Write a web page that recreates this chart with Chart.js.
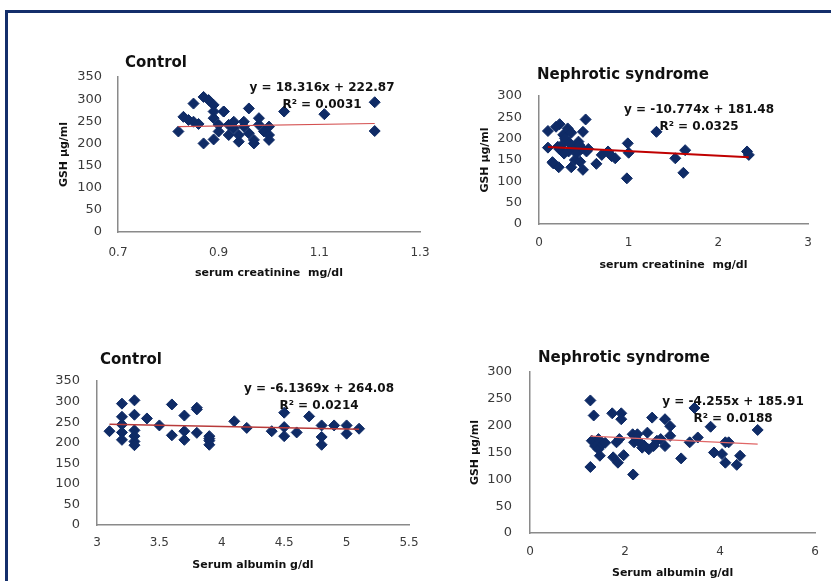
<!DOCTYPE html>
<html lang="en">
<head>
  <meta charset="UTF-8" />
  <title>GSH correlations</title>
  <script src="https://cdn.jsdelivr.net/npm/chart.js"></script>
  <style>
    body { margin: 0; background: #fff; overflow: hidden; }
    #page { position: relative; width: 831px; height: 581px; overflow: hidden; }
    #frame { position: absolute; left: 5px; top: 10px; width: 900px; height: 700px; border: 3px solid #142f6b; }
    canvas { position: absolute; }
  </style>
</head>
<body>
<div id="page">
  <div id="frame"></div>
  <canvas id="c1" width="410" height="250" style="left:40px;top:40px"></canvas>
  <canvas id="c2" width="370" height="225" style="left:455px;top:55px"></canvas>
  <canvas id="c3" width="410" height="241" style="left:40px;top:340px"></canvas>
  <canvas id="c4" width="376" height="246" style="left:455px;top:335px"></canvas>
</div>

<script>
  // Control: serum creatinine (mg/dl) vs GSH (µg/ml)
  const ctrlCreat = [0.82,0.83,0.85,0.84,0.85,0.86,0.87,0.87,0.88,0.89,0.89,0.89,0.89,0.90,0.90,0.91,0.91,0.92,0.92,0.93,
                     0.93,0.94,0.94,0.95,0.95,0.96,0.96,0.97,0.97,0.98,0.98,0.99,1.00,1.00,1.00,1.03,1.11,1.21,1.21];
  const ctrlGshA  = [227,260,290,253,249,244,200,305,298,287,272,257,209,242,227,272,272,242,219,234,
                     249,204,219,238,249,279,223,200,208,242,257,227,219,238,208,272,266,293,228];

  // Nephrotic: serum creatinine vs GSH
  const nephCreat = [0.10,0.10,0.16,0.22,0.23,0.27,0.32,0.36,0.30,0.23,0.33,0.28,0.44,0.49,0.52,0.40,0.36,0.46,0.49,0.53,
                     0.48,0.21,0.29,0.26,0.38,0.64,0.70,0.77,0.81,0.85,0.99,1.00,0.98,1.31,1.52,1.63,1.61,2.32,2.34,
                     0.42,0.45,0.55,0.15,0.34,0.19];
  const nephGshA  = [218,179,142,133,234,209,224,214,197,175,170,165,193,216,245,150,133,146,127,170,
                     177,181,201,186,181,141,162,170,159,154,189,167,107,216,154,173,120,170,162,
                     165,185,176,145,190,228];

  // Control: serum albumin (g/dl) vs GSH
  const ctrlAlb  = [3.10,3.20,3.20,3.20,3.20,3.20,3.30,3.30,3.30,3.30,3.30,3.30,3.40,3.50,3.60,3.60,3.70,3.70,3.70,3.80,
                    3.80,3.80,3.90,3.90,3.90,3.90,4.10,4.20,4.40,4.50,4.50,4.50,4.60,4.70,4.80,4.80,4.80,4.90,5.00,5.00,5.10];
  const ctrlGshB = [228,295,263,244,225,207,303,268,230,216,203,194,259,242,293,218,266,228,207,285,
                    281,224,216,205,195,210,252,236,228,273,238,216,225,264,242,214,195,242,242,222,234];

  // Nephrotic: serum albumin vs GSH
  const nephAlb  = [1.27,1.27,1.34,1.30,1.37,1.44,1.47,1.44,1.52,1.73,1.75,1.82,1.85,1.92,1.92,1.97,1.88,2.17,2.16,2.19,
                    2.26,2.36,2.47,2.50,2.57,2.60,2.67,2.84,2.84,2.95,2.95,3.18,3.36,3.46,3.53,3.80,3.87,4.04,4.11,4.11,
                    4.18,4.35,4.42,4.79,1.58,2.40,2.75,2.30];
  const nephGshB = [247,123,219,172,162,175,144,156,165,223,141,169,131,223,212,145,175,109,184,169,
                    184,159,187,156,215,162,172,212,162,199,181,139,169,233,178,198,150,147,169,131,
                    169,127,144,192,168,163,175,170];

  // trend line end points (x, y) as drawn
  const trend1 = [[0.82, 237.9], [1.21, 245.0]];
  const trend2 = [[0.10, 180.4], [2.34, 156.3]];
  const trend3 = [[3.10, 245.1], [5.10, 232.8]];
  const trend4 = [[1.27, 180.5], [4.79, 165.5]];

  // tick labels
  const xTicks1 = [0.7, 0.9, 1.1, 1.3];
  const xTicks2 = [0, 1, 2, 3];
  const xTicks3 = [3, 3.5, 4, 4.5, 5, 5.5];
  const xTicks4 = [0, 2, 4, 6];
  const yTicks350 = [0, 50, 100, 150, 200, 250, 300, 350];
  const yTicks300 = [0, 50, 100, 150, 200, 250, 300];

  Chart.defaults.font.family = '"DejaVu Sans", sans-serif';
  Chart.defaults.color = '#3a3a3a';

  const notes = {
    id: 'notes',
    afterDraw(chart, args, o) {
      const ctx = chart.ctx;
      ctx.save();
      ctx.fillStyle = '#111';
      ctx.textBaseline = 'middle';
      ctx.font = 'bold 15px "DejaVu Sans"';
      ctx.textAlign = 'left';
      ctx.fillText(o.title, o.titleX, o.titleY);
      ctx.font = 'bold 12px "DejaVu Sans"';
      ctx.textAlign = 'center';
      ctx.fillText(o.eq, o.eqX, o.eqY);
      ctx.fillText(o.r2, o.eqX, o.eqY + 17);
      ctx.restore();
    }
  };

  function pts(xs, ys) { return xs.map((x, i) => ({ x: x, y: ys[i] })); }

  function makeChart(id, c) {
    new Chart(document.getElementById(id), {
      type: 'scatter',
      data: {
        datasets: [
          {
            data: c.trend.map(p => ({ x: p[0], y: p[1] })),
            showLine: true,
            borderColor: c.lineColor,
            borderWidth: c.lineWidth,
            pointRadius: 0
          },
          {
            data: pts(c.xs, c.ys),
            pointStyle: 'rectRot',
            pointRadius: 5.5,
            backgroundColor: '#0f2b66',
            borderColor: '#0f2b66',
            borderWidth: 1
          }
        ]
      },
      options: {
        responsive: false,
        animation: false,
        layout: { padding: c.pad },
        plugins: {
          legend: { display: false },
          tooltip: { enabled: false },
          notes: c.notes
        },
        scales: {
          x: {
            min: c.xTicks[0], max: c.xTicks[c.xTicks.length - 1],
            afterBuildTicks: s => { s.ticks = c.xTicks.map(v => ({ value: v })); },
            afterFit: s => { s.height = c.xH; },
            grid: { display: false, drawTicks: false },
            border: { color: '#8a8a8a', width: 1.5 },
            ticks: { padding: c.xPad, font: { size: 12 }, callback: v => String(v) },
            title: { display: true, text: c.xTitle, color: '#111',
                     font: { size: 11, weight: 'bold' }, padding: { top: 0, bottom: c.xTitlePad } }
          },
          y: {
            min: 0, max: c.yTicks[c.yTicks.length - 1],
            afterBuildTicks: s => { s.ticks = c.yTicks.map(v => ({ value: v })); },
            afterFit: s => { s.width = c.yW; },
            grid: { display: false, drawTicks: false },
            border: { color: '#8a8a8a', width: 1.5 },
            ticks: { padding: c.yPad, font: { size: 13 } },
            title: { display: c.yTitlePad !== null, text: 'GSH µg/ml', color: '#111',
                     font: { size: 11, weight: 'bold' }, padding: { top: c.yTitlePad || 0, bottom: 0 } }
          }
        }
      },
      plugins: [notes]
    });
  }

  makeChart('c1', {
    xs: ctrlCreat, ys: ctrlGshA, trend: trend1, lineColor: '#d45050', lineWidth: 1.2,
    xTicks: xTicks1, yTicks: yTicks350,
    pad: { left: 0, right: 30, top: 37, bottom: 0 }, xH: 58, yW: 78,
    xPad: 14, yPad: 16, xTitlePad: 10, yTitlePad: 18,
    xTitle: 'serum creatinine  mg/dl',
    notes: { title: 'Control', titleX: 85, titleY: 23,
             eq: 'y = 18.316x + 222.87', r2: 'R² = 0.0031', eqX: 282, eqY: 48 }
  });

  makeChart('c2', {
    xs: nephCreat, ys: nephGshA, trend: trend2, lineColor: '#c00000', lineWidth: 2,
    xTicks: xTicks2, yTicks: yTicks300,
    pad: { left: 0, right: 17, top: 41, bottom: 0 }, xH: 56, yW: 84,
    xPad: 12, yPad: 17, xTitlePad: 8, yTitlePad: 24,
    xTitle: 'serum creatinine  mg/dl',
    notes: { title: 'Nephrotic syndrome', titleX: 82, titleY: 20,
             eq: 'y = -10.774x + 181.48', r2: 'R² = 0.0325', eqX: 244, eqY: 55 }
  });

  makeChart('c3', {
    xs: ctrlAlb, ys: ctrlGshB, trend: trend3, lineColor: '#b83a3a', lineWidth: 1.5,
    xTicks: xTicks3, yTicks: yTicks350,
    pad: { left: 0, right: 41, top: 41, bottom: 0 }, xH: 56, yW: 57,
    xPad: 11, yPad: 17, xTitlePad: 9, yTitlePad: null,
    xTitle: 'Serum albumin g/dl',
    notes: { title: 'Control', titleX: 60, titleY: 20,
             eq: 'y = -6.1369x + 264.08', r2: 'R² = 0.0214', eqX: 279, eqY: 49 }
  });

  makeChart('c4', {
    xs: nephAlb, ys: nephGshB, trend: trend4, lineColor: '#e06666', lineWidth: 1.2,
    xTicks: xTicks4, yTicks: yTicks300,
    pad: { left: 0, right: 9, top: 37, bottom: 0 }, xH: 48, yW: 75,
    xPad: 12, yPad: 18, xTitlePad: 1, yTitlePad: 14,
    xTitle: 'Serum albumin g/dl',
    notes: { title: 'Nephrotic syndrome', titleX: 83, titleY: 23,
             eq: 'y = -4.255x + 185.91', r2: 'R² = 0.0188', eqX: 278, eqY: 67 }
  });
</script>
</body>
</html>
